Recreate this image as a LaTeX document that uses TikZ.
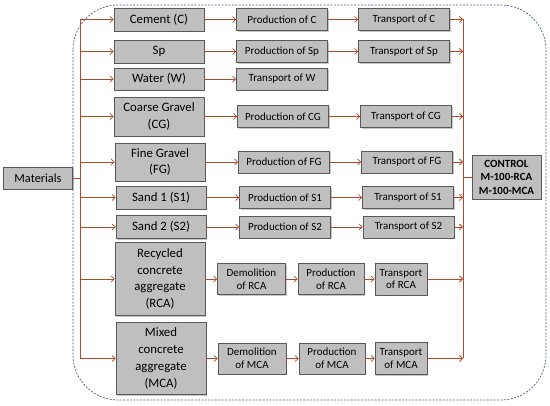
\documentclass[tikz,border=0pt]{standalone}
\usepackage{fontspec}
\setmainfont{Carlito}
\usetikzlibrary{arrows.meta,calc,shadows}
\definecolor{boxgray}{RGB}{191,191,191}
\definecolor{arrbrown}{RGB}{178,74,42}
\definecolor{frameblue}{RGB}{72,92,130}
\tikzset{
  >={Straight Barb[length=3pt,width=6pt]},
  mat/.style={draw=black!65,fill=boxgray,line width=0.6pt,inner sep=1pt,align=center,
    font=\fontsize{12.8}{16.8}\selectfont,minimum width=90pt,
    drop shadow={shadow xshift=1.3pt,shadow yshift=-1.3pt,opacity=0.45}},
  stage/.style={mat,font=\fontsize{11}{12.6}\selectfont,minimum width=91pt,minimum height=22pt},
  ln/.style={draw=arrbrown,line width=0.8pt},
}
\begin{document}
\begin{tikzpicture}[x=1pt,y=-1pt]
\useasboundingbox (0,0) rectangle (550,406);
\draw[frameblue,line width=0.7pt,dash pattern=on 2pt off 1.4pt,rounded corners=45pt] (73,5) rectangle (546,400);
% materials and first column
\node[mat,minimum width=69pt,minimum height=22pt,font=\fontsize{12.3}{14}\selectfont] (mat) at (38,178) {Materials};
\node[mat,minimum height=23pt] (c) at (159,19.5) {Cement (C)};
\node[mat,minimum height=23pt] (sp) at (159,51.5) {Sp};
\node[mat,minimum height=22pt] (w) at (159,79) {Water (W)};
\node[mat,minimum height=39pt] (cg) at (159,116.5) {Coarse Gravel\\(CG)};
\node[mat,minimum height=38pt] (fg) at (160,162) {Fine Gravel\\(FG)};
\node[mat,minimum height=23pt] (s1) at (161,197.5) {Sand 1 (S1)};
\node[mat,minimum height=23pt] (s2) at (161,227) {Sand 2 (S2)};
\node[mat,minimum height=73pt] (rca) at (160,279) {Recycled\\concrete\\aggregate\\(RCA)};
\node[mat,minimum height=72pt] (mca) at (161,358.5) {Mixed\\concrete\\aggregate\\(MCA)};
% production and transport
\node[stage] (pc) at (282,19.5) {Production of C}; \node[stage] (tc) at (404,19.5) {Transport of C};
\node[stage] (psp) at (282,51.5) {Production of Sp}; \node[stage] (tsp) at (404,51.5) {Transport of Sp};
\node[stage] (tw) at (282,79) {Transport of W};
\node[stage] (pcg) at (283,116.5) {Production of CG}; \node[stage] (tcg) at (406,116.5) {Transport of CG};
\node[stage] (pfg) at (284,162) {Production of FG}; \node[stage] (tfg) at (407,162) {Transport of FG};
\node[stage] (ps1) at (285,197.5) {Production of S1}; \node[stage] (ts1) at (408,197.5) {Transport of S1};
\node[stage] (ps2) at (285,227) {Production of S2}; \node[stage] (ts2) at (408.5,227) {Transport of S2};
\node[stage,minimum width=68pt,minimum height=31pt] (drca) at (251.5,279) {Demolition\\of RCA};
\node[stage,minimum width=66pt,minimum height=31pt] (prca) at (331,279) {Production\\of RCA};
\node[stage,minimum width=52pt,minimum height=32pt] (trca) at (401,279) {Transport\\of RCA};
\node[stage,minimum width=68pt,minimum height=31pt] (dmca) at (252,358.5) {Demolition\\of MCA};
\node[stage,minimum width=66pt,minimum height=31pt] (pmca) at (332,358.5) {Production\\of MCA};
\node[stage,minimum width=52pt,minimum height=32pt] (tmca) at (401,358.5) {Transport\\of MCA};
\node[stage,minimum width=69pt,minimum height=44pt,font=\fontsize{11}{13.5}\selectfont\bfseries] (ctl) at (506.5,177) {CONTROL\\M-100-RCA\\M-100-MCA};
\coordinate (t1) at (80,19.5); \coordinate (t2) at (80,358.5);
\coordinate (k1) at (463,19.5); \coordinate (k2) at (463,358.5);
% distribution
\draw[ln] (mat.east) -- (mat.east -| t1); \draw[ln] (t1) -- (t2);
\draw[ln,->] (t1 |- c.west) -- (c.west); \draw[ln,->] (t1 |- sp.west) -- (sp.west); \draw[ln,->] (t1 |- w.west) -- (w.west);
\draw[ln,->] (t1 |- cg.west) -- (cg.west); \draw[ln,->] (t1 |- fg.west) -- (fg.west); \draw[ln,->] (t1 |- s1.west) -- (s1.west);
\draw[ln,->] (t1 |- s2.west) -- (s2.west); \draw[ln,->] (t1 |- rca.west) -- (rca.west); \draw[ln,->] (t1 |- mca.west) -- (mca.west);
% chains
\draw[ln,->] (c) -- (pc); \draw[ln,->] (pc) -- (tc); \draw[ln,->] (sp) -- (psp); \draw[ln,->] (psp) -- (tsp);
\draw[ln,->] (w) -- (tw); \draw[ln,->] (cg) -- (pcg); \draw[ln,->] (pcg) -- (tcg);
\draw[ln,->] (fg) -- (pfg); \draw[ln,->] (pfg) -- (tfg); \draw[ln,->] (s1) -- (ps1); \draw[ln,->] (ps1) -- (ts1);
\draw[ln,->] (s2) -- (ps2); \draw[ln,->] (ps2) -- (ts2);
\draw[ln,->] (rca) -- (drca); \draw[ln,->] (drca) -- (prca); \draw[ln,->] (prca) -- (trca);
\draw[ln,->] (mca) -- (dmca); \draw[ln,->] (dmca) -- (pmca); \draw[ln,->] (pmca) -- (tmca);
% collection
\draw[ln] (k1) -- (k2); \draw[ln] (k1 |- ctl.west) -- (ctl.west);
\draw[ln,->] (tc) -- (tc -| k1); \draw[ln,->] (tsp) -- (tsp -| k1); \draw[ln,->] (tcg) -- (tcg -| k1);
\draw[ln,->] (tfg) -- (tfg -| k1); \draw[ln,->] (ts1) -- (ts1 -| k1); \draw[ln,->] (ts2) -- (ts2 -| k1);
\draw[ln,->] (trca) -- (trca -| k1); \draw[ln,->] (tmca) -- (tmca -| k1);
\end{tikzpicture}
\end{document}
